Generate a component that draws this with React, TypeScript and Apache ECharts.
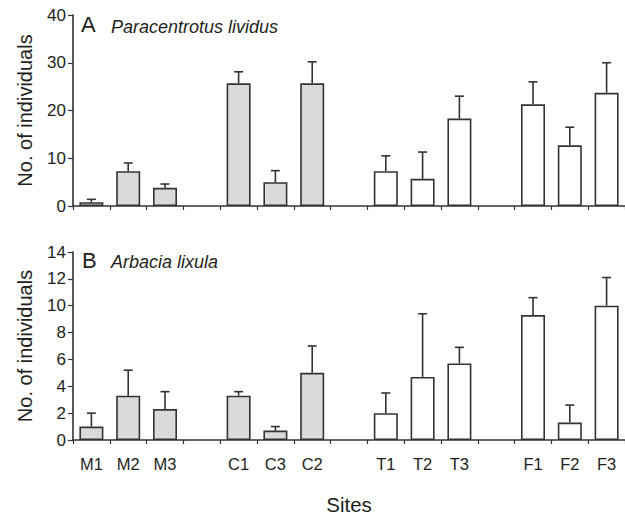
import React, { useEffect, useRef } from "react";
import * as echarts from "echarts";

const sites = ["M1", "M2", "M3", "_g1", "C1", "C3", "C2", "_g2", "T1", "T2", "T3", "_g3", "F1", "F2", "F3"];
const shaded = [true, true, true, false, true, true, true, false, false, false, false, false, false, false, false];

const valuesA = [0.8, 7.3, 3.8, null, 25.7, 5.0, 25.7, null, 7.3, 5.7, 18.3, null, 21.3, 12.7, 23.7];
const errorsA = [0.6, 1.7, 0.8, null, 2.4, 2.4, 4.5, null, 3.2, 5.6, 4.7, null, 4.7, 3.8, 6.3];

const valuesB = [1.0, 3.3, 2.3, null, 3.3, 0.7, 5.0, null, 2.0, 4.7, 5.7, null, 9.3, 1.3, 10.0];
const errorsB = [1.0, 1.9, 1.3, null, 0.3, 0.3, 2.0, null, 1.5, 4.7, 1.2, null, 1.3, 1.3, 2.1];

const ticksA = { min: 0, max: 40, interval: 10 };
const ticksB = { min: 0, max: 14, interval: 2 };

const FONT = "'Liberation Sans', Arial, Helvetica, sans-serif";
const INK = "#231f20";
const LINE = "#333333";
const GRAY = "#dadada";

export default function App() {
  const ref = useRef<HTMLDivElement>(null);
  useEffect(() => {
    if (!ref.current) return;
    const chart = echarts.init(ref.current, undefined, { renderer: "svg" });

    const barData = (vals: (number | null)[]) =>
      vals.map((v, i) =>
        v == null
          ? null
          : {
              value: v,
              itemStyle: { color: shaded[i] ? GRAY : "#ffffff", borderColor: LINE, borderWidth: 1.6 },
            }
      );
    const errData = (vals: (number | null)[], errs: (number | null)[]) =>
      vals
        .map((v, i) => (v == null || errs[i] == null ? null : [i, v, errs[i]]))
        .filter((d) => d != null);

    const renderErr = (params: any, api: any) => {
      const idx = api.value(0);
      const v = api.value(1);
      const e = api.value(2);
      const p0 = api.coord([idx, v]);
      const p1 = api.coord([idx, v + e]);
      const st = { stroke: LINE, lineWidth: 1.6 };
      return {
        type: "group",
        children: [
          { type: "line", shape: { x1: p0[0], y1: p0[1], x2: p1[0], y2: p1[1] }, style: st },
          { type: "line", shape: { x1: p1[0] - 4.5, y1: p1[1], x2: p1[0] + 4.5, y2: p1[1] }, style: st },
        ],
      };
    };

    const xAxisBase = (gridIndex: number, showLabels: boolean) => ({
      type: "category",
      gridIndex,
      data: sites,
      boundaryGap: true,
      axisLine: { show: true, lineStyle: { color: LINE, width: 1.6 } },
      axisTick: { show: true, alignWithLabel: false, length: 4, lineStyle: { color: LINE, width: 1.2 } },
      axisLabel: {
        show: showLabels,
        interval: 0,
        margin: 15,
        fontSize: 16.5,
        fontFamily: FONT,
        color: INK,
        formatter: (s: string) => (s.startsWith("_") ? "" : s),
      },
      name: showLabels ? "Sites" : "",
      nameLocation: "middle",
      nameGap: 54,
      nameTextStyle: { fontSize: 20.5, fontFamily: FONT, color: INK },
      splitLine: { show: false },
    });

    const yAxisBase = (gridIndex: number, t: { min: number; max: number; interval: number }) => ({
      type: "value",
      gridIndex,
      min: t.min,
      max: t.max,
      interval: t.interval,
      axisLine: { show: true, lineStyle: { color: LINE, width: 1.6 } },
      axisTick: { show: true, inside: false, length: 5, lineStyle: { color: LINE, width: 1.2 } },
      axisLabel: { margin: 7, fontSize: 17, fontFamily: FONT, color: INK },
      splitLine: { show: false },
      name: "No. of individuals",
      nameLocation: "middle",
      nameGap: 38,
      nameTextStyle: { fontSize: 20, fontFamily: FONT, color: INK },
    });

    chart.setOption({
      animation: false,
      backgroundColor: "#ffffff",
      grid: [
        { left: 73, right: 0, top: 15, height: 191 },
        { left: 73, right: 0, top: 252, height: 188 },
      ],
      xAxis: [xAxisBase(0, false), xAxisBase(1, true)],
      yAxis: [yAxisBase(0, ticksA), yAxisBase(1, ticksB)],
      graphic: [
        { type: "text", x: 81, y: 24, style: { text: "A", fontSize: 22, fontFamily: FONT, fill: INK, verticalAlign: "middle" } },
        {
          type: "text",
          x: 111,
          y: 27,
          style: { text: "Paracentrotus lividus", fontSize: 18, fontStyle: "italic", fontFamily: FONT, fill: INK, verticalAlign: "middle" },
        },
        { type: "text", x: 82, y: 260.5, style: { text: "B", fontSize: 22, fontFamily: FONT, fill: INK, verticalAlign: "middle" } },
        {
          type: "text",
          x: 111,
          y: 262,
          style: { text: "Arbacia lixula", fontSize: 18, fontStyle: "italic", fontFamily: FONT, fill: INK, verticalAlign: "middle" },
        },
      ],
      series: [
        { type: "bar", xAxisIndex: 0, yAxisIndex: 0, barWidth: 24, data: barData(valuesA), z: 2 },
        { type: "custom", xAxisIndex: 0, yAxisIndex: 0, data: errData(valuesA, errorsA), renderItem: renderErr, encode: { x: 0, y: 1 }, z: 3 },
        { type: "bar", xAxisIndex: 1, yAxisIndex: 1, barWidth: 24, data: barData(valuesB), z: 2 },
        { type: "custom", xAxisIndex: 1, yAxisIndex: 1, data: errData(valuesB, errorsB), renderItem: renderErr, encode: { x: 0, y: 1 }, z: 3 },
      ],
    });
    return () => chart.dispose();
  }, []);

  return (
    <div
      ref={ref}
      style={{ position: "fixed", left: 0, top: 0, width: 625, height: 517, background: "#fff" }}
    />
  );
}
